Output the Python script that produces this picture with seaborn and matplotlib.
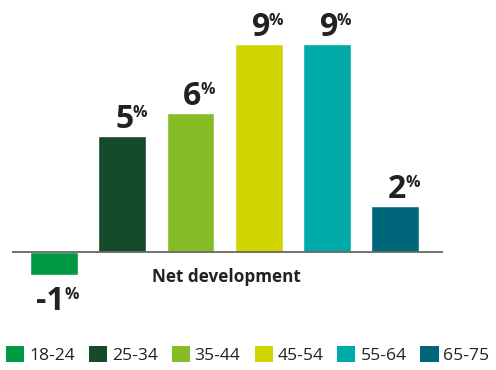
import matplotlib
matplotlib.use("Agg")
import matplotlib.pyplot as plt
from matplotlib.patches import Patch
import seaborn as sns
import pandas as pd

# Net development by age group (percent)
age_groups = ["18-24", "25-34", "35-44", "45-54", "55-64", "65-75"]
net_change = [-1, 5, 6, 9, 9, 2]
colors = ["#009a44", "#154a2a", "#86bc25", "#d0d400", "#00aaa8", "#00677a"]
axis_title = "Net development"

sns.set_theme(style="white")
plt.rcParams["font.family"] = ["Open Sans", "DejaVu Sans"]
text_color = "#222222"

df = pd.DataFrame({"age": age_groups, "value": net_change})

fig = plt.figure(figsize=(4.96, 3.70), dpi=100)
W, H = 496, 370
ax = fig.add_axes([12 / W, 70 / H, (443 - 12) / W, 300 / H])

sns.barplot(data=df, x="age", y="value", hue="age", palette=colors,
            order=age_groups, hue_order=age_groups, dodge=False,
            width=0.70, legend=False, saturation=1, ax=ax)

ax.set_xlim(-0.616, 5.70)
ax.set_ylim(-2.077, 10.904)
ax.axhline(0, color="#666666", lw=1.3, zorder=3)
for s in ax.spines.values():
    s.set_visible(False)
ax.set_xticks([])
ax.set_yticks([])
ax.set_xlabel("")
ax.set_ylabel("")

# value labels: large bold number with a small raised percent sign
renderer = fig.canvas.get_renderer()
for i, v in enumerate(net_change):
    base = 8 if v >= 0 else -35
    num = ax.annotate(f"{v}", xy=(i, v), xytext=(11, base), textcoords="offset pixels",
                      ha="right", va="baseline", fontsize=23, fontweight="bold",
                      color=text_color)
    bb = num.get_window_extent(renderer)
    pct_x = ax.transData.inverted().transform((bb.x1 - 1, 0))[0]
    ax.annotate("%", xy=(pct_x, v), xytext=(0, base + 11), textcoords="offset pixels",
                ha="left", va="baseline", fontsize=11.5, fontweight="bold",
                color=text_color)

fig.text(226 / W, 1 - 277 / H, axis_title, ha="center", va="center",
         fontsize=12.3, fontweight="bold", color=text_color)

handles = [Patch(facecolor=c, edgecolor="none", label=a)
           for a, c in zip(age_groups, colors)]
fig.legend(handles=handles, loc="center left", bbox_to_anchor=(1 / W, 1 - 355 / H),
           ncol=6, frameon=False, fontsize=12.6, handlelength=1.03, handleheight=1.03,
           handletextpad=0.28, columnspacing=0.8, borderaxespad=0, borderpad=0.3,
           labelcolor=text_color)

fig.savefig("out.png", dpi=100)
